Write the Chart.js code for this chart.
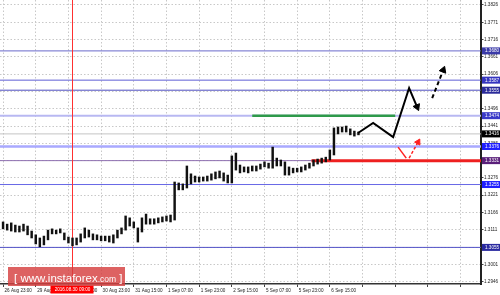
<!DOCTYPE html>
<html>
<head>
<meta charset="utf-8">
<script src="https://cdn.jsdelivr.net/npm/chart.js@4.4.0/dist/chart.umd.min.js"></script>
<style>
    html, body { margin: 0; padding: 0; background: #fff; }
    #wrap { width: 500px; height: 295px; position: relative; }
</style>
</head>
<body>
<div id="wrap"><canvas id="chart"></canvas></div>
<script>
// H1 bars, one bar per 2 hours, first bar 26 Aug 23:00
const barHighs = [
    1.3136, 1.3129, 1.3133, 1.3126, 1.3123, 1.3129, 1.3123, 1.3107, 1.3095, 1.3085,
    1.3091, 1.3110, 1.3114, 1.3110, 1.3114, 1.3101, 1.3088, 1.3085, 1.3085, 1.3098,
    1.3117, 1.3110, 1.3098, 1.3095, 1.3091, 1.3091, 1.3091, 1.3095, 1.3110, 1.3117,
    1.3155, 1.3149, 1.3136, 1.3117, 1.3149, 1.3161, 1.3146, 1.3146, 1.3149, 1.3152,
    1.3155, 1.3158, 1.3263, 1.3260, 1.3257, 1.3314, 1.3289, 1.3282, 1.3279, 1.3279,
    1.3282, 1.3289, 1.3295, 1.3298, 1.3292, 1.3285, 1.3346, 1.3355, 1.3317, 1.3311,
    1.3311, 1.3314, 1.3314, 1.3320, 1.3327, 1.3323, 1.3374, 1.3339, 1.3333, 1.3327,
    1.3311, 1.3307, 1.3307, 1.3311, 1.3317, 1.3323, 1.3333, 1.3336, 1.3339, 1.3342,
    1.3365, 1.3435, 1.3438, 1.3438, 1.3441, 1.3432, 1.3425, 1.3422,
];
const barLows = [
    1.3114, 1.3110, 1.3107, 1.3104, 1.3104, 1.3107, 1.3095, 1.3085, 1.3066, 1.3057,
    1.3063, 1.3079, 1.3098, 1.3098, 1.3101, 1.3079, 1.3069, 1.3060, 1.3063, 1.3072,
    1.3085, 1.3088, 1.3079, 1.3079, 1.3076, 1.3076, 1.3072, 1.3069, 1.3085, 1.3098,
    1.3110, 1.3123, 1.3117, 1.3072, 1.3104, 1.3129, 1.3129, 1.3129, 1.3133, 1.3136,
    1.3139, 1.3136, 1.3142, 1.3238, 1.3238, 1.3244, 1.3257, 1.3263, 1.3263, 1.3266,
    1.3266, 1.3269, 1.3273, 1.3276, 1.3266, 1.3260, 1.3260, 1.3301, 1.3292, 1.3295,
    1.3292, 1.3298, 1.3298, 1.3304, 1.3311, 1.3307, 1.3307, 1.3314, 1.3314, 1.3285,
    1.3285, 1.3292, 1.3295, 1.3295, 1.3301, 1.3307, 1.3314, 1.3320, 1.3323, 1.3327,
    1.3333, 1.3349, 1.3416, 1.3422, 1.3422, 1.3413, 1.3409, 1.3413,
];
const hoursPerBar = 2;

// axes
const yTicks = [1.3826, 1.3771, 1.3716, 1.3661, 1.3606, 1.3551, 1.3496, 1.3441, 1.3386,
    1.3331, 1.3276, 1.3221, 1.3166, 1.3111, 1.3056, 1.3001, 1.2946];
const timeTicks = [0, 16, 32, 48, 64, 80, 96, 112, 128, 144, 160, 176, 192, 208, 224];
const timeLabels = ['26 Aug 23:00', '29 Aug 15:00', '30 Aug 07:00', '30 Aug 23:00', '31 Aug 15:00',
    '1 Sep 07:00', '1 Sep 23:00', '2 Sep 15:00', '5 Sep 07:00', '5 Sep 23:00', '6 Sep 15:00'];

// support / resistance levels
const levels = [1.3680, 1.3587, 1.3555, 1.3474, 1.3376, 1.3331, 1.3255, 1.3055];
const lastPrice = 1.3416;
const markerHour = 34;
const markerLabel = '2016.08.30 09:00';

// drawn forecast
const greenHours = [122, 192];
const greenPrices = [1.3474, 1.3474];
const redHours = [151, 234];
const redPrices = [1.3331, 1.3331];
const pathHours = [173.8, 181.2, 191.0, 198.8, 202.7];
const pathPrices = [1.3419, 1.3451, 1.3406, 1.3562, 1.3502];
const upHours = [210.1, 215.5];
const upPrices = [1.3530, 1.3619];
const redDownHours = [193.4, 197.4];
const redDownPrices = [1.3374, 1.3339];
const redUpHours = [198.8, 203.2];
const redUpPrices = [1.3339, 1.3390];

const X_MIN = -1.5, X_MAX = 234;
const Y_MIN = 1.29386, Y_MAX = 1.38419;

const levelLine = ['#6a6acb', '#5f5fd6', '#4e4ec0', '#b8b8f2', '#a9a9ff', '#8e6fb0', '#6868e6', '#5252c8'];
const levelWidth = [1, 1, 1, 2, 2.5, 1, 1, 1];
const levelBox = ['#3a3aa8', '#3535c0', '#2a2a9a', '#3a3ac8', '#1f1fff', '#5a1f7a', '#1f1fff', '#2a2aa0'];

const small = { family: 'Liberation Sans, Arial, sans-serif', size: 4.6 };

function pts(xs, ys) {
    return xs.map((x, i) => ({ x, y: ys[i] }));
}

function arrow(xs, ys, color, width, rot, dash, head) {
    const last = xs.length - 1;
    return {
        type: 'line',
        data: pts(xs, ys),
        borderColor: color,
        borderWidth: width,
        borderDash: dash || [],
        pointStyle: 'triangle',
        pointRadius: (c) => (c.dataIndex === last ? head : 0),
        pointRotation: rot,
        pointBackgroundColor: color,
        pointBorderColor: color,
        pointBorderWidth: 1,
        order: 0,
    };
}

function noPadding(s) {
    s.paddingLeft = 0;
    s.paddingRight = 0;
    s.paddingTop = 0;
    s.paddingBottom = 0;
}

const datasets = [
    arrow(pathHours, pathPrices, '#000', 2, 157, null, 4),
    arrow(upHours, upPrices, '#000', 2, 21, [4, 3], 4),
    arrow(redDownHours, redDownPrices, '#ff2020', 1.5, 0, null, 0),
    arrow(redUpHours, redUpPrices, '#ff2020', 1.5, 29, [3, 2], 3.5),
    {
        type: 'bar',
        data: barHighs.map((h, i) => ({ x: i * hoursPerBar, y: [barLows[i], h] })),
        backgroundColor: '#111',
        barThickness: 1.8,
        grouped: false,
        order: 1,
    },
    {
        type: 'line',
        data: pts(greenHours, greenPrices),
        borderColor: '#2e9a4a',
        borderWidth: 2.5,
        pointRadius: 0,
        order: 2,
    },
    {
        type: 'line',
        data: pts(redHours, redPrices),
        borderColor: '#ee2020',
        borderWidth: 3,
        pointRadius: 0,
        order: 2,
    },
    {
        type: 'line',
        data: pts([markerHour, markerHour], [Y_MIN, Y_MAX]),
        borderColor: '#ff3030',
        borderWidth: 1,
        pointRadius: 0,
        order: 3,
    },
    {
        type: 'line',
        data: pts([X_MIN, X_MAX], [lastPrice, lastPrice]),
        borderColor: '#c4c4c4',
        borderWidth: 1,
        pointRadius: 0,
        order: 4,
    },
];

levels.forEach((v, i) => {
    datasets.push({
        type: 'line',
        data: pts([X_MIN, X_MAX], [v, v]),
        borderColor: levelLine[i],
        borderWidth: levelWidth[i],
        pointRadius: 0,
        order: 4,
    });
});

const overlay = {
    id: 'overlay',
    afterDraw(chart) {
        const { ctx, chartArea, scales } = chart;
        ctx.save();
        ctx.font = `${small.size}px ${small.family}`;
        ctx.textBaseline = 'middle';

        // price boxes on the right axis
        const boxes = levels.map((v, i) => ({ v, fill: levelBox[i] }));
        boxes.push({ v: lastPrice, fill: '#000' });
        boxes.forEach((b) => {
            const y = scales.y.getPixelForValue(b.v);
            ctx.fillStyle = b.fill;
            ctx.fillRect(chartArea.right + 1, y - 3.5, 19, 7);
            ctx.fillStyle = '#fff';
            ctx.textAlign = 'left';
            ctx.fillText(b.v.toFixed(4), chartArea.right + 4, y + 0.3);
        });

        // red time marker on the bottom axis
        const mx = scales.x.getPixelForValue(markerHour);
        ctx.fillStyle = '#ff0000';
        ctx.fillRect(mx - 22, chartArea.bottom + 1.5, 43, 8);
        ctx.fillStyle = '#fff';
        ctx.textAlign = 'center';
        ctx.fillText(markerLabel, mx, chartArea.bottom + 5.7);

        // watermark
        ctx.fillStyle = 'rgba(214, 64, 64, 0.82)';
        ctx.fillRect(8, 267, 117, 19);
        ctx.fillStyle = '#fff';
        ctx.textAlign = 'left';
        ctx.textBaseline = 'alphabetic';
        let x = 14;
        ctx.font = '11.5px Liberation Sans, Arial, sans-serif';
        ctx.fillText('[ www.instaforex', x, 282);
        x += ctx.measureText('[ www.instaforex').width;
        ctx.font = '8.5px Liberation Sans, Arial, sans-serif';
        ctx.fillText('.com', x, 282);
        x += ctx.measureText('.com').width;
        ctx.font = '11.5px Liberation Sans, Arial, sans-serif';
        ctx.fillText(' ]', x, 282);
        ctx.restore();
    },
};

new Chart(document.getElementById('chart'), {
    type: 'line',
    data: { datasets },
    options: {
        responsive: true,
        maintainAspectRatio: false,
        animation: false,
        events: [],
        layout: { padding: 0, autoPadding: false },
        plugins: { legend: { display: false }, tooltip: { enabled: false } },
        scales: {
            x: {
                type: 'linear',
                min: X_MIN,
                max: X_MAX,
                offset: false,
                afterBuildTicks: (s) => { s.ticks = timeTicks.map((value) => ({ value })); },
                afterFit: (s) => { s.height = 11; noPadding(s); },
                ticks: {
                    autoSkip: false,
                    maxRotation: 0,
                    align: 'start',
                    labelOffset: 1.5,
                    padding: 1,
                    color: '#222',
                    font: small,
                    callback: (v, i) => timeLabels[i] || '',
                },
                grid: { color: '#c8c8c8', tickColor: '#444', tickLength: 3, offset: false },
                border: { color: '#333', width: 1.5, dash: [1.5, 2] },
            },
            y: {
                position: 'right',
                min: Y_MIN,
                max: Y_MAX,
                afterBuildTicks: (s) => { s.ticks = yTicks.map((value) => ({ value })); },
                afterFit: (s) => { s.width = 19; noPadding(s); },
                ticks: {
                    padding: 0.5,
                    color: '#222',
                    font: small,
                    callback: (v) => v.toFixed(4),
                },
                grid: { color: '#c8c8c8', tickColor: '#444', tickLength: 2.5 },
                border: { color: '#222', width: 2, dash: [1.5, 2] },
            },
        },
    },
    plugins: [overlay],
});
</script>
</body>
</html>
